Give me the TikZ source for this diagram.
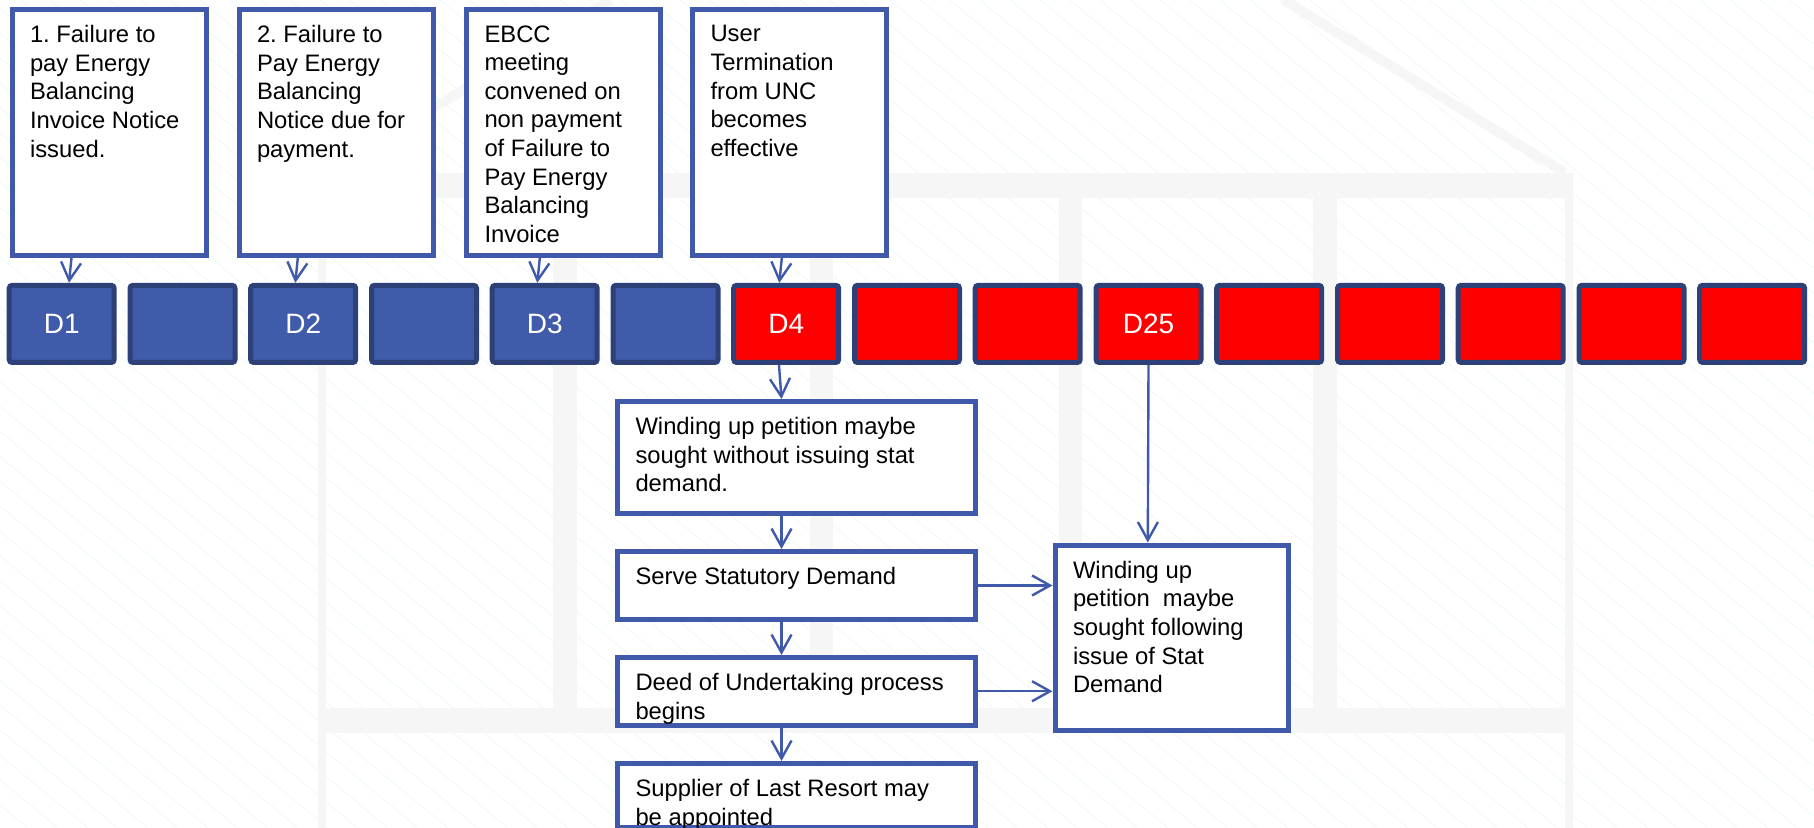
\documentclass[tikz,border=0pt]{standalone}
\usepackage{fontspec}
\setmainfont{Liberation Sans}
\usetikzlibrary{arrows.meta,positioning}

\definecolor{boxblue}{RGB}{64,89,170}
\definecolor{dayblue}{RGB}{63,91,169}
\definecolor{dayedge}{RGB}{46,64,120}
\definecolor{dayred}{RGB}{255,0,0}
\definecolor{markgray}{RGB}{246,246,246}
\definecolor{hatchcyan}{RGB}{236,249,249}

\newcommand{\notetext}[3]{\parbox[t][#2][t]{#1}{\raggedright\frenchspacing #3}}

\tikzset{
  note/.style={draw=boxblue, line width=2.5pt, fill=white, anchor=north west,
    inner xsep=9pt, inner ysep=8pt, font=\fontsize{11.9}{14.3}\selectfont},
  day/.style={draw=dayedge, line width=2.5pt, fill=dayblue, rounded corners=1.5pt,
    minimum width=52.5pt, minimum height=38.6pt, inner sep=0pt, text=white,
    font=\fontsize{14}{16}\selectfont},
  late/.style={day, fill=dayred},
  link/.style={draw=boxblue, line width=1.2pt,
    -{Straight Barb[length=9pt,width=10pt,line width=1.2pt]}},
}

\begin{document}
\begin{tikzpicture}[x=0.5pt,y=-0.5pt]
\useasboundingbox (0,0) rectangle (1814,828);

% watermark
\begin{scope}
\clip (0,0) rectangle (1814,828);
\foreach \x in {-1000,-970,...,1814}
  \draw [hatchcyan, line width=0.4pt] (\x,0) -- (\x+998,828);
\end{scope}
\draw [markgray, line width=5pt] (326,173) -- (611,0);
\draw [markgray, line width=5pt] (1565,173) -- (1284,0);
\fill [markgray] (318,173) rectangle (1573,198);
\fill [markgray] (318,708) rectangle (1573,733);
\fill [markgray] (318,198) rectangle (326,828);
\fill [markgray] (1565,198) rectangle (1573,828);
\fill [markgray] (553,198) rectangle (577,708);
\fill [markgray] (810,198) rectangle (833,708);
\fill [markgray] (1059,198) rectangle (1082,708);
\fill [markgray] (1313,198) rectangle (1337,708);

% notices
\node [note] (fail1) at (9.5,7) {\notetext{79pt}{107pt}{1. Failure to\\ pay Energy\\ Balancing\\ Invoice Notice\\ issued.}};
\node [note] (fail2) at (236.5,7) {\notetext{79pt}{107pt}{2. Failure to\\ Pay Energy\\ Balancing\\ Notice due for\\ payment.}};
\node [note] (ebcc) at (464,7) {\notetext{79pt}{107pt}{EBCC\\ meeting\\ convened on\\ non payment\\ of Failure to\\ Pay Energy\\ Balancing\\ Invoice}};
\node [note] (term) at (690,7) {\notetext{79pt}{107pt}{User\\ Termination\\ from UNC\\ becomes\\ effective}};

% days
\node [day] (day1) at (61.7,323.9) {D1};
\node [day] (day2) at (182.5,323.9) {};
\node [day] (day3) at (303.2,323.9) {D2};
\node [day] (day4) at (424,323.9) {};
\node [day] (day5) at (544.7,323.9) {D3};
\node [day] (day6) at (665.5,323.9) {};
\node [late] (day7) at (786.2,323.9) {D4};
\node [late] (day8) at (907,323.9) {};
\node [late] (day9) at (1027.7,323.9) {};
\node [late] (day10) at (1148.5,323.9) {D25};
\node [late] (day11) at (1269.2,323.9) {};
\node [late] (day12) at (1390,323.9) {};
\node [late] (day13) at (1510.7,323.9) {};
\node [late] (day14) at (1631.5,323.9) {};
\node [late] (day15) at (1752.2,323.9) {};

% petitions
\node [note] (wind) at (615,399) {\notetext{161pt}{40pt}{Winding up petition maybe\\ sought without issuing stat\\ demand.}};
\node [note] (serve) at (615,549) {\notetext{161pt}{18pt}{Serve Statutory Demand}};
\node [note] (deed) at (615,655) {\notetext{161pt}{17.75pt}{Deed of Undertaking process\\ begins}};
\node [note] (slr) at (615,761) {\notetext{161pt}{16pt}{Supplier of Last Resort may\\ be appointed}};
\node [note] (windstat) at (1052.5,542.5) {\notetext{98.5pt}{76.5pt}{Winding up\\ petition\ \ maybe\\ sought following\\ issue of Stat\\ Demand}};

% links
\draw [link] ([xshift=-18.75pt]fail1.south) -- ([xshift=3.65pt]day1.north);
\draw [link] ([xshift=-19.1pt]fail2.south) -- ([xshift=-3.95pt]day3.north);
\draw [link] ([xshift=-11.85pt]ebcc.south) -- ([xshift=-3.7pt]day5.north);
\draw [link] ([xshift=-3.85pt]term.south) -- ([xshift=-3.45pt]day7.north);
\draw [link] ([xshift=-3.6pt]day7.south) -- ([xshift=-7.5pt]wind.north);
\draw [link] ([xshift=-7.5pt]wind.south) -- ([xshift=-7.5pt]serve.north);
\draw [link] ([xshift=-7.5pt]serve.south) -- ([xshift=-7.5pt]deed.north);
\draw [link] ([xshift=-7.5pt]deed.south) -- ([xshift=-7.5pt]slr.north);
\draw [link] (serve.east) -- (serve.east -| windstat.west);
\draw [link] (deed.east) -- (deed.east -| windstat.west);
\draw [link] (day10.south) -- ([xshift=-11.85pt]windstat.north);

\end{tikzpicture}
\end{document}
